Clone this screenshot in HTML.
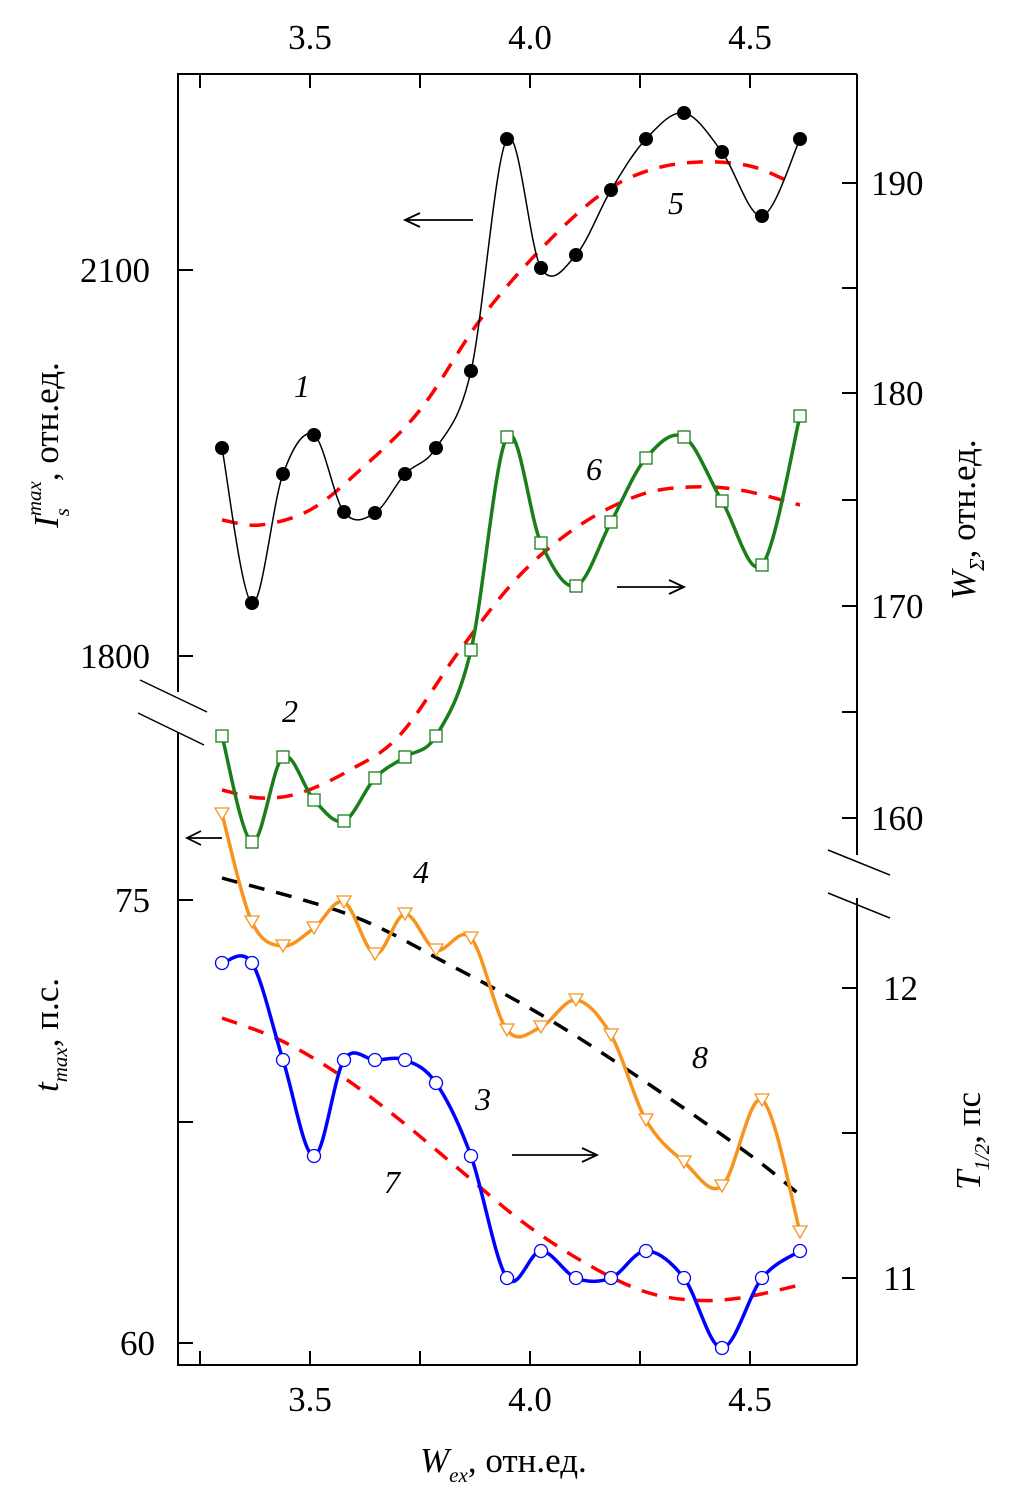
<!DOCTYPE html>
<html><head><meta charset="utf-8"><style>
html,body{margin:0;padding:0;background:#fff;}
svg{display:block;font-family:"Liberation Serif",serif;}
</style></head><body>
<svg id="s" width="1011" height="1500" viewBox="0 0 1011 1500" xmlns="http://www.w3.org/2000/svg">
<rect width="1011" height="1500" fill="#fff"/>
<g stroke="#000" stroke-width="2" fill="none">
<line x1="177" y1="74" x2="857" y2="74"/>
<line x1="177" y1="1365" x2="857" y2="1365"/>
<line x1="178" y1="74" x2="178" y2="692"/>
<line x1="178" y1="732" x2="178" y2="1365"/>
<line x1="857" y1="74" x2="857" y2="855"/>
<line x1="857" y1="898" x2="857" y2="1365"/>
<line x1="140" y1="680" x2="207" y2="712" stroke-width="1.5"/>
<line x1="138" y1="713" x2="204" y2="745" stroke-width="1.5"/>
<line x1="828" y1="850" x2="890" y2="875" stroke-width="1.5"/>
<line x1="828" y1="893" x2="890" y2="918" stroke-width="1.5"/>
<path d="M200 74v14M310 74v14M420 74v14M530 74v14M640 74v14M750 74v14M200 1365v-14M310 1365v-14M420 1365v-14M530 1365v-14M640 1365v-14M750 1365v-14"/>
<path d="M178 270h15M178 656h15M178 900h15M178 1122h15M178 1343h15"/>
<path d="M857 183h-15M857 288h-15M857 393h-15M857 500h-15M857 606h-15M857 712h-15M857 818h-15M857 988h-15M857 1133h-15M857 1278h-15"/>
</g>
<g font-size="35" fill="#000" text-anchor="middle">
<text x="310" y="49">3.5</text><text x="530" y="49">4.0</text><text x="750" y="49">4.5</text>
<text x="310" y="1411">3.5</text><text x="530" y="1411">4.0</text><text x="750" y="1411">4.5</text>
</g>
<g font-size="35" fill="#000" text-anchor="end">
<text x="150" y="282">2100</text><text x="150" y="668">1800</text>
<text x="150" y="912">75</text><text x="155" y="1355">60</text>
</g>
<g font-size="35" fill="#000" text-anchor="start">
<text x="871" y="195">190</text><text x="871" y="405">180</text><text x="871" y="618">170</text><text x="871" y="830">160</text>
<text x="883" y="1000">12</text><text x="883" y="1290">11</text>
</g>
<g font-size="35" fill="#000">
<text transform="translate(58,528) rotate(-90)"><tspan font-style="italic">I</tspan><tspan font-size="21" font-style="italic" dy="11">s</tspan><tspan font-size="21" font-style="italic" dy="-28" dx="-8">max</tspan><tspan dy="17">, отн.ед.</tspan></text>
<text transform="translate(58,1092) rotate(-90)"><tspan font-style="italic">t</tspan><tspan font-size="21" font-style="italic" dy="9">max</tspan><tspan dy="-9">, п.с.</tspan></text>
<text transform="translate(975,600) rotate(-90)"><tspan font-style="italic">W</tspan><tspan font-size="21" font-style="italic" dy="9">Σ</tspan><tspan dy="-9">, отн.ед.</tspan></text>
<text transform="translate(980,1190) rotate(-90)"><tspan font-style="italic">T</tspan><tspan font-size="21" font-style="italic" dy="9">1/2</tspan><tspan dy="-9">, пс</tspan></text>
<text x="420" y="1472"><tspan font-style="italic">W</tspan><tspan font-size="21" font-style="italic" dy="10">ex</tspan><tspan dy="-10">, отн.ед.</tspan></text>
</g>
<g font-size="32" font-style="italic" fill="#000" text-anchor="middle">
<text x="302" y="397">1</text><text x="290" y="722">2</text><text x="483" y="1110">3</text><text x="421" y="883">4</text>
<text x="676" y="214">5</text><text x="594" y="480">6</text><text x="392" y="1193">7</text><text x="700" y="1068">8</text>
</g>
<g id="plot"></g>
<g stroke="#000" stroke-width="1.8" fill="none">
<line x1="473" y1="220" x2="406" y2="220"/><path d="M420 213L405 220L420 227"/>
<line x1="617" y1="587" x2="683" y2="587"/><path d="M669 580L684 587L669 594"/>
<line x1="222" y1="838" x2="188" y2="838"/><path d="M201 831L187 838L201 845"/>
<line x1="512" y1="1155" x2="596" y2="1155"/><path d="M582 1148L597 1155L582 1162"/>
</g>
</svg>
<script>
var NS="http://www.w3.org/2000/svg";var g=document.getElementById("plot");
function cr(p){var d="M"+p[0][0]+" "+p[0][1];for(var i=0;i<p.length-1;i++){var a=p[i-1]||p[i],b=p[i],c=p[i+1],e=p[i+2]||c;
d+=" C"+(b[0]+(c[0]-a[0])/6)+" "+(b[1]+(c[1]-a[1])/6)+" "+(c[0]-(e[0]-b[0])/6)+" "+(c[1]-(e[1]-b[1])/6)+" "+c[0]+" "+c[1];}return d;}
function el(n,at){var x=document.createElementNS(NS,n);for(var k in at)x.setAttribute(k,at[k]);g.appendChild(x);return x;}
var X=[222,252,283,314,344,375,405,436,471,507,541,576,611,646,684,722,762,800];
function pts(Y){return X.map(function(x,i){return [x,Y[i]];});}
var s1=pts([448,603,474,435,512,513,474,448,371,139,268,255,190,139,113,152,216,139]);
var s2=pts([736,842,757,800,821,778,757,736,650,437,543,586,522,458,437,501,565,416]);
var s4=pts([814,922,946,928,902,954,914,950,938,1030,1027,1000,1035,1120,1162,1186,1100,1232]);
var s3=pts([963,963,1060,1156,1060,1060,1060,1083,1156,1278,1251,1278,1278,1251,1278,1348,1278,1251]);
var d5=[[222,520],[260,525],[310,510],[360,470],[420,410],[480,320],[540,250],[600,195],[650,170],[700,162],[750,166],[790,182]];
var d6=[[222,790],[260,798],[300,793],[350,770],[400,735],[460,650],[520,575],[580,525],[640,495],[690,487],[740,490],[800,505]];
var d7=[[222,1018],[280,1040],[340,1075],[400,1120],[460,1170],[520,1220],[580,1260],[640,1290],[690,1300],[740,1298],[800,1285]];
var d8=[[222,878],[350,915],[450,965],[550,1020],[650,1085],[750,1155],[800,1195]];
[d5,d6,d7].forEach(function(p){el("path",{d:cr(p),fill:"none",stroke:"#f00","stroke-width":3.5,"stroke-dasharray":"16 12"});});
el("path",{d:cr(d8),fill:"none",stroke:"#000","stroke-width":3.5,"stroke-dasharray":"16 12"});
el("path",{d:cr(s1),fill:"none",stroke:"#000","stroke-width":1.5});
el("path",{d:cr(s2),fill:"none",stroke:"#1a7f1a","stroke-width":3.5});
el("path",{d:cr(s4),fill:"none",stroke:"#f7941d","stroke-width":3.5});
el("path",{d:cr(s3),fill:"none",stroke:"#0000ff","stroke-width":3.5});
s1.forEach(function(p){el("circle",{cx:p[0],cy:p[1],r:7,fill:"#000"});});
s2.forEach(function(p){el("rect",{x:p[0]-6,y:p[1]-6,width:12,height:12,fill:"#fff",stroke:"#1a7f1a","stroke-width":1.3});});
s4.forEach(function(p){el("path",{d:"M"+(p[0]-7)+" "+(p[1]-6)+"h14l-7 12z",fill:"#fff",stroke:"#f7941d","stroke-width":1.3});});
s3.forEach(function(p){el("circle",{cx:p[0],cy:p[1],r:6.5,fill:"#fff",stroke:"#0000ff","stroke-width":1.3});});
</script>
</body></html>
